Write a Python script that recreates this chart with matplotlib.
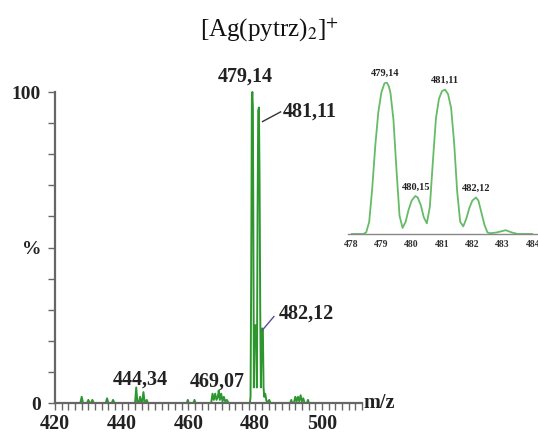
import matplotlib
matplotlib.use("Agg")
import matplotlib.pyplot as plt
from matplotlib.patches import Rectangle
from matplotlib.ticker import MultipleLocator, FixedLocator

plt.rcParams['font.family'] = ['Liberation Serif', 'DejaVu Serif']
plt.rcParams['mathtext.fontset'] = 'stix'

# ---- data ----
title = r'[Ag(pytrz)$_2$]$^{+}$'

main_mz = [420, 427.6, 428, 428.4, 429.6, 430, 430.4, 430.8, 431.2, 431.6,
           435.2, 435.6, 436, 437, 437.4, 437.8,
           444, 444.34, 444.7, 445.1, 445.5, 445.9, 446.1, 446.5, 446.9, 447.2, 447.5, 447.8,
           459.5, 459.8, 460.1, 461.5, 461.8, 462.1,
           466.8, 467.2, 467.6, 468, 468.4, 468.8, 469.07, 469.4, 469.8, 470.2, 470.6, 471, 471.5, 472,
           478.4, 478.6, 478.8, 479.0, 479.14, 479.3, 479.5, 479.6, 479.8, 480.0, 480.15, 480.3,
           480.5, 480.7, 480.9, 481.11, 481.3, 481.5, 481.7, 481.9, 482.12, 482.3, 482.5, 482.7,
           483.0, 483.3, 483.6, 484.2, 484.6,
           490.5, 490.8, 491.1, 491.6, 492, 492.4, 492.8, 493.2, 493.6, 494, 494.4, 494.8,
           495.5, 495.8, 496.1, 512]
main_int = [0, 0, 2, 0, 0, 1, 0, 0, 1, 0,
            0, 1.5, 0, 0, 1, 0,
            0, 5, 0, 0, 2, 0, 0, 3.5, 0, 0, 1, 0,
            0, 1, 0, 0, 1, 0,
            0, 3, 1, 3, 1, 2, 4, 1, 3, 0.5, 2, 0.5, 1, 0,
            0, 2, 42, 98, 100, 95, 40, 5, 20, 25, 25, 24,
            5, 60, 94, 95, 72, 30, 5, 20, 24, 23, 5, 2,
            3, 1, 0, 1, 0,
            0, 1, 0, 0, 2, 0.5, 2, 0.5, 2.5, 0.5, 1.5, 0,
            0, 1, 0, 0]

inset_mz = [478.0, 478.4, 478.5, 478.6, 478.7, 478.8, 478.9, 479.0, 479.1, 479.17, 479.25, 479.3,
            479.4, 479.5, 479.6, 479.7, 479.8, 479.9, 480.0, 480.12, 480.2, 480.3, 480.4, 480.5,
            480.6, 480.7, 480.8, 480.9, 481.0, 481.1, 481.2, 481.3, 481.4, 481.5, 481.6, 481.7,
            481.8, 481.9, 482.0, 482.12, 482.2, 482.3, 482.4, 482.5, 482.6, 482.8, 483.0, 483.1,
            483.3, 483.5, 484.0]
inset_int = [0, 0, 1, 8, 30, 58, 80, 93, 99, 100, 97, 93,
             75, 42, 12, 4, 8, 16, 22, 25, 24, 19, 11, 7,
             18, 48, 76, 89, 94, 95, 92, 83, 60, 28, 8, 5,
             10, 17, 22, 24, 22, 14, 6, 1, 0.5, 1, 2, 2.5,
             1, 0, 0]

main_labels = ['479,14', '481,11', '482,12', '444,34', '469,07']
inset_peaks = [479.14, 480.15, 481.11, 482.12]
inset_peak_int = [100, 25, 95, 24]
inset_labels = ['479,14', '480,15', '481,11', '482,12']

W, H = 538, 436
fig = plt.figure(figsize=(W / 100, H / 100), dpi=100)

def fx(px):
    return px / W

def fy(py):
    return 1 - py / H

# ---- main axes ----
ax = fig.add_axes([fx(55), fy(403), fx(362) - fx(55), fy(92) - fy(403)])
ax.plot(main_mz, main_int, color='#2e962e', lw=1.4, clip_on=False)
ax.set_xlim(420, 512)
ax.set_ylim(0, 100)
for s in ['top', 'right']:
    ax.spines[s].set_visible(False)
for s in ['left', 'bottom']:
    ax.spines[s].set_color('#666666')
    ax.spines[s].set_linewidth(1.6)
ax.xaxis.set_major_locator(FixedLocator([420, 440, 460, 480, 500]))
ax.xaxis.set_minor_locator(MultipleLocator(2))
ax.yaxis.set_major_locator(FixedLocator([0, 50, 100]))
ax.yaxis.set_minor_locator(MultipleLocator(10))
ax.set_yticklabels(['0', '%', '100'])
ax.tick_params(axis='both', which='both', color='#666666', width=1.0, length=5, direction='out')
ax.tick_params(axis='x', which='major', labelsize=14.5, pad=3)
ax.tick_params(axis='y', which='major', labelsize=14, pad=5)
for lab in ax.get_xticklabels() + ax.get_yticklabels():
    lab.set_fontweight('bold')
    lab.set_color('#222222')

ax.text(1.005, 0.0, 'm/z', transform=ax.transAxes, fontsize=14.5, fontweight='bold',
        ha='left', va='center', color='#222222')

txt_kw = dict(fontsize=14.5, fontweight='bold', color='#222222')
ax.text(476.9, 104.8, main_labels[0], ha='center', va='center', clip_on=False, **txt_kw)
ax.text(488.4, 93.6, main_labels[1], ha='left', va='center', clip_on=False, **txt_kw)
ax.plot([482.2, 487.6], [90.5, 93.6], color='#333333', lw=1.0, clip_on=False)
ax.text(487.0, 28.9, main_labels[2], ha='left', va='center', clip_on=False, **txt_kw)
ax.plot([482.2, 485.6], [23.5, 27.8], color='#5a4a9a', lw=1.0, clip_on=False)
ax.text(445.7, 7.4, main_labels[3], ha='center', va='center', **txt_kw)
ax.text(468.7, 6.8, main_labels[4], ha='center', va='center', **txt_kw)

# white cover behind inset
fig.patches.append(Rectangle((fx(340), fy(250)), fx(538) - fx(340), fy(60) - fy(250),
                             transform=fig.transFigure, facecolor='white', edgecolor='none',
                             zorder=1))

# ---- inset ----
ins = fig.add_axes([fx(351), fy(234), fx(533) - fx(351), fy(82) - fy(234)], zorder=2)
ins.patch.set_alpha(0)
ins.plot(inset_mz, inset_int, color='#66bb66', lw=1.3)
ins.set_xlim(478, 484)
ins.set_ylim(0, 100)
for s in ['top', 'right', 'left']:
    ins.spines[s].set_visible(False)
ins.spines['bottom'].set_color('#888888')
ins.spines['bottom'].set_linewidth(1.0)
ins.spines['bottom'].set_bounds(477.9, 484.2)
ins.set_yticks([])
ins.set_xticks([478, 479, 480, 481, 482, 483, 484])
ins.tick_params(axis='x', length=0, labelsize=7, pad=4, labelcolor='#333333')
for lab in ins.get_xticklabels():
    lab.set_fontweight('bold')
for m, h, t in zip(inset_peaks, inset_peak_int, inset_labels):
    ins.text(m, h + 3, t, ha='center', va='bottom', fontsize=7.5, fontweight='bold',
             color='#222222', clip_on=False)

fig.text(0.5, fy(30), title, ha='center', va='center', fontsize=18, color='#111111')

fig.savefig('out.png', dpi=100)
